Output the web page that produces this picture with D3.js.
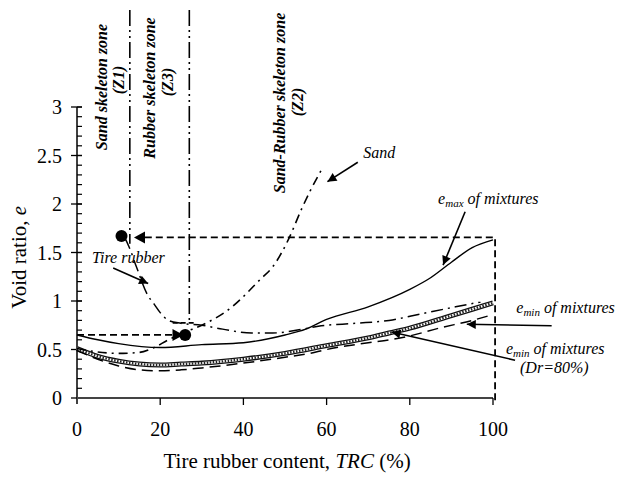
<!DOCTYPE html>
<html>
<head>
<meta charset="utf-8">
<script src="https://cdn.jsdelivr.net/npm/d3@7"></script>
<style>
    body { margin: 0; background: #fff; }
    text { font-family: 'Liberation Serif', 'Times New Roman', Times, 'DejaVu Serif', serif; }
</style>
</head>
<body>
<div id="chart"></div>
<script>
// Tire rubber content (%) and void ratio values
var emaxTRC = [0, 5, 10, 20, 30, 40, 50, 55, 60, 70, 80, 85, 90, 95, 100];
var emaxE = [0.65, 0.60, 0.56, 0.52, 0.55, 0.57, 0.65, 0.71, 0.81, 0.94, 1.12, 1.24, 1.40, 1.55, 1.63];

var eminTRC = [0, 5, 10, 15, 20, 25, 30, 40, 50, 56, 60, 70, 75, 80, 87, 95, 100];
var eminE = [0.49, 0.40, 0.33, 0.29, 0.28, 0.29, 0.31, 0.36, 0.42, 0.46, 0.50, 0.57, 0.60, 0.64, 0.72, 0.80, 0.86];

var dr80TRC = [0, 5, 10, 15, 20, 25, 30, 40, 50, 60, 70, 75, 80, 90, 100];
var dr80E = [0.51, 0.43, 0.38, 0.35, 0.34, 0.35, 0.36, 0.40, 0.46, 0.54, 0.62, 0.67, 0.72, 0.85, 0.98];

var sandTRC = [0, 4, 10, 15, 18, 22, 26, 30, 37, 44, 47, 51, 54, 56, 59];
var sandE = [0.51, 0.48, 0.46, 0.47, 0.51, 0.60, 0.68, 0.75, 0.93, 1.22, 1.35, 1.65, 1.95, 2.13, 2.37];

var rubberTRC = [11.5, 12.5, 14.3, 17, 18.5, 20, 22, 25, 30, 35, 42, 47, 53, 58, 67, 75, 83, 91, 97];
var rubberE = [1.65, 1.56, 1.35, 1.06, 0.97, 0.88, 0.80, 0.77, 0.75, 0.71, 0.67, 0.67, 0.70, 0.74, 0.77, 0.80, 0.87, 0.94, 0.99];

// Zone boundaries (TRC) and guide markers
var zoneTRC = [12.7, 27];
var zoneBottomE = [1.59, 0.77];
var pointTRC = [10.7, 26];
var pointE = [1.67, 0.65];

var xTicks = [0, 20, 40, 60, 80, 100];
var yTicks = [0, 0.5, 1, 1.5, 2, 2.5, 3];

var width = 617, height = 477;

var svg = d3.select("#chart")
    .append("svg")
    .attr("width", width)
    .attr("height", height)
    .attr("font-family", "Liberation Serif, Times New Roman, serif");

var x = d3.scaleLinear().domain([0, 100]).range([77, 493]);
var y = d3.scaleLinear().domain([0, 3]).range([398, 107]);

// Arrow head marker
svg.append("defs").append("marker")
    .attr("id", "head")
    .attr("viewBox", "0 0 10 10")
    .attr("refX", 10)
    .attr("refY", 5)
    .attr("markerWidth", 12)
    .attr("markerHeight", 9)
    .attr("markerUnits", "userSpaceOnUse")
    .attr("orient", "auto")
    .append("path")
    .attr("d", "M0,0L10,5L0,10Z")
    .attr("fill", "#000");

function zip(xs, ys) {
    return xs.map((v, i) => [v, ys[i]]);
}

var line = d3.line()
    .x(d => x(d[0]))
    .y(d => y(d[1]))
    .curve(d3.curveMonotoneX);

// Axes
var yAxis = svg.append("g").attr("transform", "translate(" + x(0) + ",0)");
yAxis.append("line")
    .attr("y1", y(3)).attr("y2", y(0) + 6)
    .attr("stroke", "#000").attr("stroke-width", 1.5);
yAxis.selectAll(".minor")
    .data(d3.range(0, 31).map(d => d / 10))
    .enter()
    .append("line")
    .attr("x1", 0).attr("x2", 5)
    .attr("y1", d => y(d)).attr("y2", d => y(d))
    .attr("stroke", "#000").attr("stroke-width", 1.2);
yAxis.selectAll(".major")
    .data(yTicks)
    .enter()
    .append("line")
    .attr("x1", -6).attr("x2", 5)
    .attr("y1", d => y(d)).attr("y2", d => y(d))
    .attr("stroke", "#000").attr("stroke-width", 1.3);
yAxis.selectAll("text")
    .data(yTicks)
    .enter()
    .append("text")
    .attr("x", -15)
    .attr("y", d => y(d))
    .attr("dy", "0.35em")
    .attr("text-anchor", "end")
    .style("font-size", "20px")
    .text(d => d);

var xAxis = svg.append("g").attr("transform", "translate(0," + y(0) + ")");
xAxis.append("line")
    .attr("x1", x(0)).attr("x2", x(100))
    .attr("stroke", "#444").attr("stroke-width", 2);
xAxis.selectAll(".tick")
    .data(xTicks.slice(1))
    .enter()
    .append("line")
    .attr("x1", d => x(d)).attr("x2", d => x(d))
    .attr("y1", 0).attr("y2", 7)
    .attr("stroke", "#000").attr("stroke-width", 1.3);
xAxis.selectAll("text")
    .data(xTicks)
    .enter()
    .append("text")
    .attr("x", d => x(d))
    .attr("y", 38)
    .attr("text-anchor", "middle")
    .style("font-size", "20px")
    .text(d => d);

// Axis titles
svg.append("text")
    .attr("transform", "translate(26," + y(1.45) + ") rotate(-90)")
    .attr("text-anchor", "middle")
    .style("font-size", "21px")
    .html('Void ratio, <tspan font-style="italic">e</tspan>');

svg.append("text")
    .attr("x", x(50.5))
    .attr("y", 468)
    .attr("text-anchor", "middle")
    .style("font-size", "21px")
    .html('Tire rubber content, <tspan font-style="italic">TRC</tspan> (%)');

// Guide lines (dashed)
var guides = [
    [[0, 0.65], [23, 0.65]],
    [[16.3, 1.655], [100.5, 1.655], [100.5, -0.06]]
];
svg.selectAll(".guide")
    .data(guides)
    .enter()
    .append("path")
    .attr("d", d3.line().x(d => x(d[0])).y(d => y(d[1])))
    .attr("fill", "none")
    .attr("stroke", "#000")
    .attr("stroke-width", 1.8)
    .attr("stroke-dasharray", "7,4");

// Zone boundaries
svg.selectAll(".zone")
    .data(zoneTRC)
    .enter()
    .append("line")
    .attr("x1", d => x(d)).attr("x2", d => x(d))
    .attr("y1", 10)
    .attr("y2", (d, i) => y(zoneBottomE[i]))
    .attr("stroke", "#000")
    .attr("stroke-width", 1.6)
    .attr("stroke-dasharray", "16,4,2,4,2,4");

// small cross bar at the bottom of the Z3 boundary
svg.append("line")
    .attr("x1", x(23)).attr("x2", x(28.5))
    .attr("y1", y(0.775)).attr("y2", y(0.775))
    .attr("stroke", "#000").attr("stroke-width", 1.8)
    .attr("stroke-dasharray", "5,3");

// e_min (Dr = 80%) hatched band
var dr80 = zip(dr80TRC, dr80E);
svg.append("path").attr("d", line(dr80))
    .attr("fill", "none").attr("stroke", "#111").attr("stroke-width", 5);
svg.append("path").attr("d", line(dr80))
    .attr("fill", "none").attr("stroke", "#fff").attr("stroke-width", 2.4);
svg.append("path").attr("d", line(dr80))
    .attr("fill", "none").attr("stroke", "#222").attr("stroke-width", 2.4)
    .attr("stroke-dasharray", "1.5,1.5");

// e_min of mixtures
svg.append("path").attr("d", line(zip(eminTRC, eminE)))
    .attr("fill", "none").attr("stroke", "#000").attr("stroke-width", 1.5)
    .attr("stroke-dasharray", "11,6");

// e_max of mixtures
svg.append("path").attr("d", line(zip(emaxTRC, emaxE)))
    .attr("fill", "none").attr("stroke", "#000").attr("stroke-width", 1.4);

// Sand
svg.append("path").attr("d", line(zip(sandTRC, sandE)))
    .attr("fill", "none").attr("stroke", "#000").attr("stroke-width", 1.6)
    .attr("stroke-dasharray", "9,5,2,5");

// Tire rubber
svg.append("path").attr("d", line(zip(rubberTRC, rubberE)))
    .attr("fill", "none").attr("stroke", "#000").attr("stroke-width", 1.5)
    .attr("stroke-dasharray", "12,5,2,5");

// Guide triangles and points
var triangles = [
    { t: 13.7, e: 1.655, dir: -1 },
    { t: 25.6, e: 0.65, dir: 1 }
];
svg.selectAll(".tri")
    .data(triangles)
    .enter()
    .append("path")
    .attr("d", d => {
        var tx = x(d.t), ty = y(d.e), b = tx - d.dir * 11;
        return "M" + tx + "," + ty + "L" + b + "," + (ty - 6) + "L" + b + "," + (ty + 6) + "Z";
    })
    .attr("fill", "#000");
svg.selectAll(".pt")
    .data(pointTRC)
    .enter()
    .append("circle")
    .attr("cx", d => x(d))
    .attr("cy", (d, i) => y(pointE[i]))
    .attr("r", 6)
    .attr("fill", "#000");

// Annotation arrows, [tail TRC, tail e, tip TRC, tip e]
var arrows = [
    [67.5, 2.43, 60.2, 2.23],
    [93.3, 1.92, 88.0, 1.37],
    [114.1, 0.745, 93.7, 0.76],
    [105.3, 0.39, 75.6, 0.68],
    [8.7, 1.34, 17.1, 1.18]
];
svg.selectAll(".arrow")
    .data(arrows)
    .enter()
    .append("line")
    .attr("x1", d => x(d[0])).attr("y1", d => y(d[1]))
    .attr("x2", d => x(d[2])).attr("y2", d => y(d[3]))
    .attr("stroke", "#000")
    .attr("stroke-width", 1.6)
    .attr("marker-end", "url(#head)");

// Curve labels
var labels = svg.append("g").style("font-size", "16px").style("font-style", "italic");
labels.append("text").attr("x", x(68.8)).attr("y", y(2.47)).text("Sand");
labels.append("text").attr("x", x(3.6)).attr("y", y(1.39)).text("Tire rubber");
labels.append("text").attr("x", x(86.8)).attr("y", y(2.0))
    .html('e<tspan font-size="11px" dy="3">max</tspan><tspan dy="-3"> of mixtures</tspan>');
labels.append("text").attr("x", x(105.6)).attr("y", y(0.876))
    .html('e<tspan font-size="11px" dy="3">min</tspan><tspan dy="-3"> of mixtures</tspan>');
labels.append("text").attr("x", x(103.1)).attr("y", y(0.458))
    .html('e<tspan font-size="11px" dy="3">min</tspan><tspan dy="-3"> of mixtures</tspan>');
labels.append("text").attr("x", x(106.5)).attr("y", y(0.262)).text("(Dr=80%)");

// Zone labels (rotated)
var zoneLabels = [
    { text: "Sand skeleton zone", bx: 107, cy: 87 },
    { text: "(Z1)", bx: 124, cy: 80 },
    { text: "Rubber skeleton zone", bx: 155, cy: 88 },
    { text: "(Z3)", bx: 173, cy: 82 },
    { text: "Sand-Rubber skeleton zone", bx: 285, cy: 103 },
    { text: "(Z2)", bx: 303, cy: 102 }
];
svg.selectAll(".zoneLabel")
    .data(zoneLabels)
    .enter()
    .append("text")
    .attr("transform", d => "translate(" + d.bx + "," + d.cy + ") rotate(-90)")
    .attr("text-anchor", "middle")
    .style("font-size", "16px")
    .style("font-weight", "bold")
    .style("font-style", "italic")
    .text(d => d.text);
</script>
</body>
</html>
